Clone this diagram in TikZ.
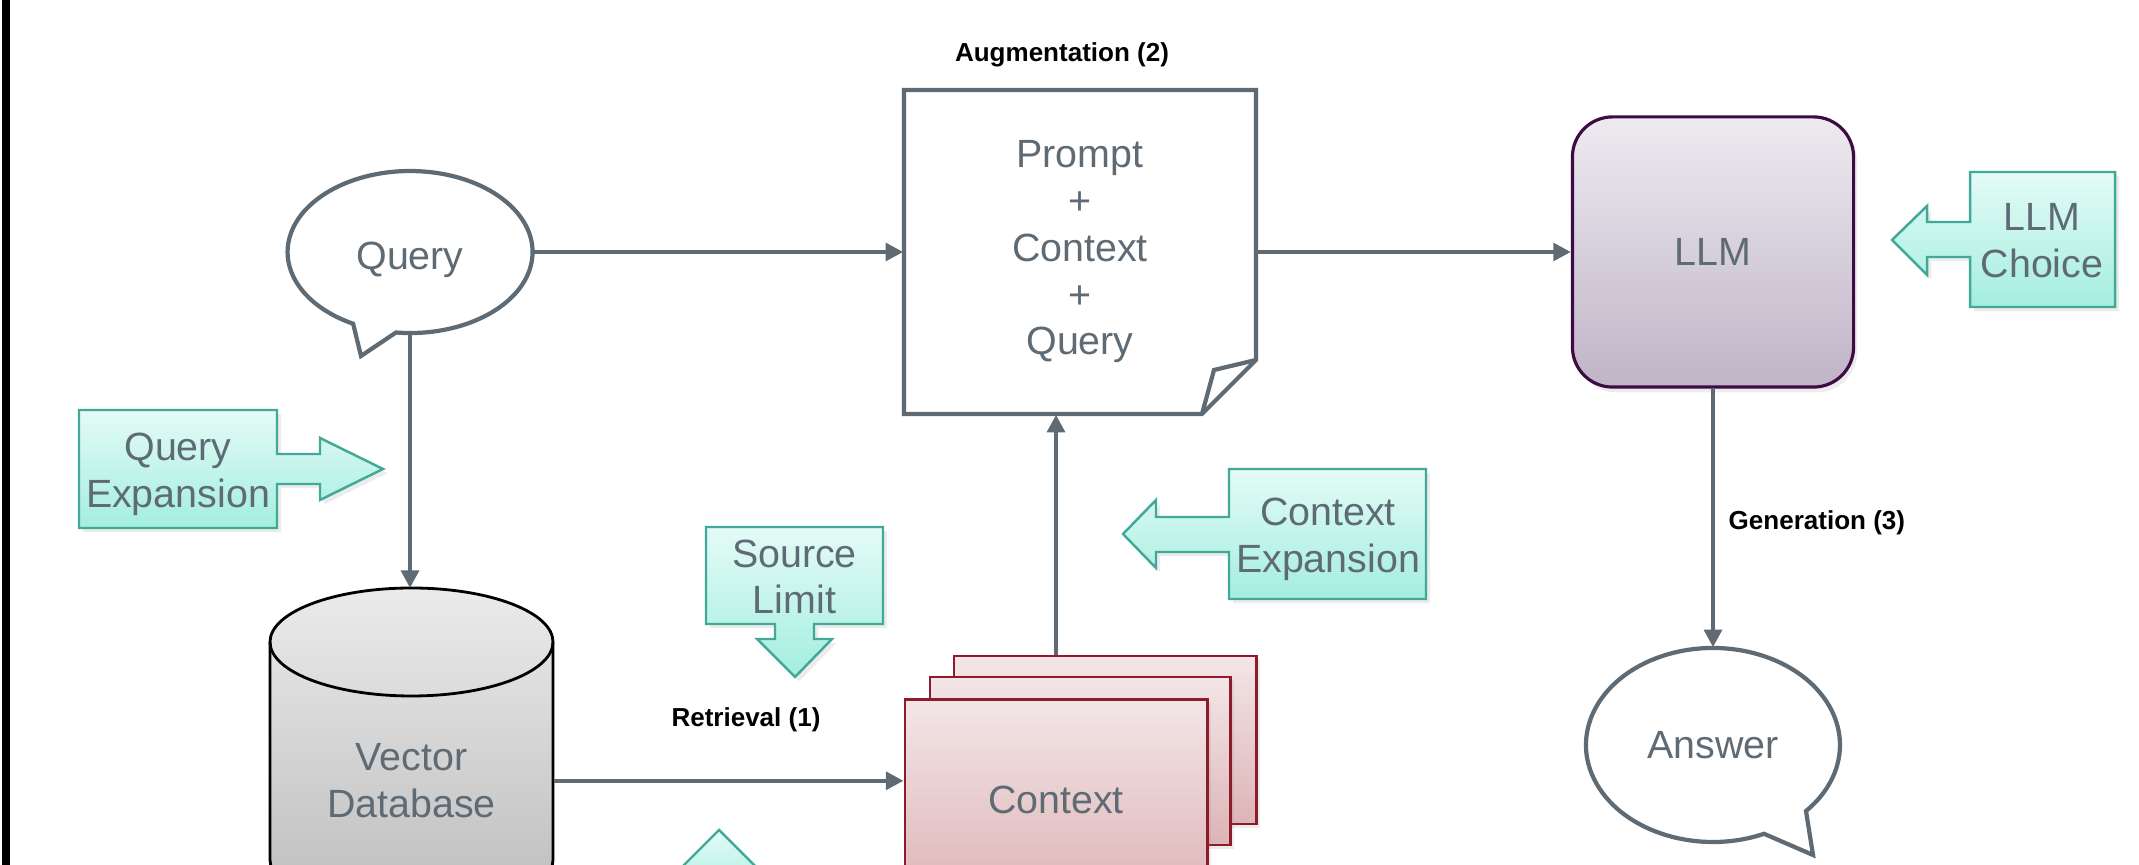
\documentclass[tikz,border=0pt]{standalone}
\usepackage{fontspec}
\setmainfont{Liberation Sans}
\usetikzlibrary{arrows.meta, positioning, shapes.geometric, shadows}

\definecolor{linegray}{RGB}{94,107,117}
\definecolor{tealedge}{RGB}{66,168,151}
\definecolor{tealtop}{RGB}{228,251,246}
\definecolor{tealbot}{RGB}{163,238,223}
\definecolor{llmedge}{RGB}{60,12,66}
\definecolor{llmtop}{RGB}{237,235,240}
\definecolor{llmbot}{RGB}{192,180,200}
\definecolor{cyltop}{RGB}{235,235,235}
\definecolor{cylbot}{RGB}{188,188,188}
\definecolor{cardedge}{RGB}{142,27,43}
\definecolor{cardtop}{RGB}{243,230,231}
\definecolor{cardbot}{RGB}{221,180,182}

\begin{document}
\begin{tikzpicture}[x=0.01cm, y=-0.01cm,
    flow/.style={draw=linegray, line width=1.2pt, -{Triangle[length=5pt, width=5pt]}},
    graytext/.style={text=linegray, font=\fontsize{11.2}{13.3}\selectfont, align=center},
    steplabel/.style={font=\fontsize{7.4}{9}\selectfont\bfseries, text=black},
    bubble/.style={draw=linegray, line width=1.2pt, fill=white, line join=miter},
    callout/.style={draw=tealedge, line width=0.7pt, top color=tealtop, bottom color=tealbot,
      drop shadow={opacity=0.15, shadow xshift=1.2pt, shadow yshift=-1.2pt}},
    card/.style={draw=cardedge, line width=0.8pt, top color=cardtop, bottom color=cardbot,
      drop shadow={opacity=0.15, shadow xshift=1pt, shadow yshift=-1pt}},
  ]
    \useasboundingbox (0,0) rectangle (2139,865);
    \fill[white] (0,0) rectangle (2139,865);
    \fill[black] (2,0) rectangle (10,865);

    % speech bubbles
    \path[bubble] (396,332.5) arc[start angle=96.6, end angle=-242.3, x radius=122.5, y radius=81]
      -- (361,356) -- cycle;
    \node[ellipse, minimum width=2.45cm, minimum height=1.62cm, inner sep=0pt, graytext,
      text height=10pt, text depth=0.2pt] (query) at (410,252) {Query};
    \path[bubble] (1764,833.8) arc[start angle=66.3, end angle=402.9, x radius=127, y radius=97]
      -- (1813,855) -- cycle;
    \node[ellipse, minimum width=2.54cm, minimum height=1.94cm, inner sep=0pt, graytext]
      (answer) at (1713,745) {Answer};

    % prompt sheet with folded corner
    \draw[linegray, line width=1.2pt, fill=white, line join=miter]
      (904,90) -- (1256,90) -- (1256,360) -- (1202,414) -- (904,414) -- cycle;
    \draw[linegray, line width=1.2pt, line join=miter] (1256,360) -- (1214,370) -- (1202,414);
    \node[minimum width=3.52cm, minimum height=3.24cm, graytext]
      (prompt) at (1080,252) {Prompt\\+\\Context\\+\\Query};

    % model
    \node[draw=llmedge, line width=0.9pt, rounded corners=0.4cm, top color=llmtop,
      bottom color=llmbot, minimum width=2.81cm, minimum height=2.70cm, graytext,
      drop shadow={opacity=0.15, shadow xshift=1pt, shadow yshift=-1.5pt}]
      (llm) at (1713,252) {LLM};

    % vector store
    \path[draw=black, line width=0.8pt, top color=cyltop, bottom color=cylbot]
      (270,642) -- (270,860) arc[start angle=180, end angle=0, x radius=141.5, y radius=54]
      -- (553,642) arc[start angle=0, end angle=-180, x radius=141.5, y radius=54] -- cycle;
    \draw[black, line width=0.8pt] (270,642) arc[start angle=180, end angle=0, x radius=141.5, y radius=54];
    \node[minimum width=2.83cm, minimum height=3.84cm, anchor=north, graytext]
      (db) at (411.5,588) {Vector\\Database};

    % retrieved context stack
    \node[card, minimum width=3.02cm, minimum height=1.68cm] (ctxback) at (1105,740) {};
    \node[card, minimum width=3.00cm, minimum height=1.68cm] (ctxmid) at (1080,761) {};
    \node[card, minimum width=3.02cm, minimum height=2.00cm, anchor=north, graytext]
      (ctx) at (1056,698) {Context};

    % flow
    \draw[flow] (query.east) -- (prompt.west);
    \draw[flow] (prompt.east) -- (llm.west);
    \draw[flow] (query.south) -- (query.south |- db.north);
    \draw[flow] (db.east) -- (db.east -| ctx.west);
    \draw[flow] (ctx.north |- ctxback.north) -- (ctx.north |- prompt.south);
    \draw[flow] (llm.south) -- (answer.north);

    \node[steplabel] (augment) at (1062,55) {Augmentation (2)};
    \node[steplabel] (retrieve) at (746,720) {Retrieval (1)};
    \node[steplabel, anchor=west, inner sep=0pt] (generate) at (1728,523) {Generation (3)};

    % tuning knobs
    \path[callout] (79,410) -- (277,410) -- (277,454) -- (320,454) -- (320,438) -- (383,469)
      -- (320,500) -- (320,484) -- (277,484) -- (277,528) -- (79,528) -- cycle;
    \node[graytext] (qexp) at (178,474) {Query\\Expansion};
    \path[callout] (706,527) -- (883,527) -- (883,624) -- (814,624) -- (814,639) -- (832,639)
      -- (795,677) -- (757,639) -- (775,639) -- (775,624) -- (706,624) -- cycle;
    \node[graytext] (srclim) at (794.5,577) {Source\\Limit};
    \path[callout] (1426,469) -- (1426,599) -- (1229,599) -- (1229,552) -- (1156,552)
      -- (1156,568) -- (1123,534) -- (1156,500) -- (1156,517) -- (1229,517) -- (1229,469) -- cycle;
    \node[graytext] (ctxexp) at (1328,539) {Context\\Expansion};
    \path[callout] (2115,172) -- (2115,307) -- (1970,307) -- (1970,257) -- (1927,257)
      -- (1927,275) -- (1892,240) -- (1927,206) -- (1927,222) -- (1970,222) -- (1970,172) -- cycle;
    \node[graytext] (llmchoice) at (2042,241) {LLM\\Choice};
    \path[callout] (719,830) -- (791,902) -- (647,902) -- cycle;
  \end{tikzpicture}
\end{document}
